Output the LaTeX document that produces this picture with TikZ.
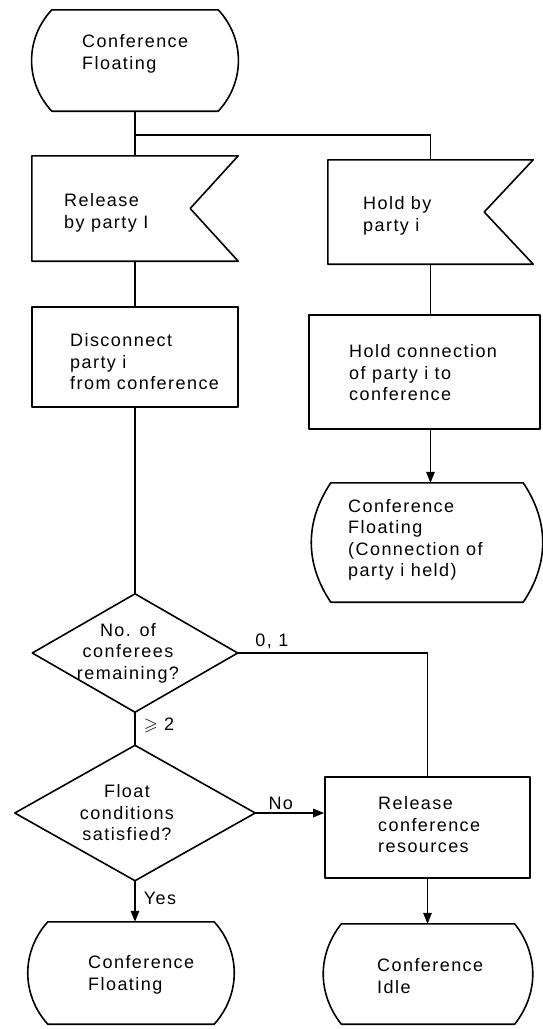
\documentclass[tikz,border=0pt]{standalone}
\usepackage{amssymb}
\usepackage{fontspec}
\setmainfont{Liberation Sans}[LetterSpace=8]
\usetikzlibrary{arrows.meta,calc}

\tikzset{
  shape line/.style={line width=1.6pt, line join=round},
  conn/.style={line width=1.6pt},
  arr/.style={conn, -{Triangle[length=11pt,width=8.5pt]}},
  frame/.style={rectangle, draw=none, inner sep=0pt, minimum width=#1},
  frame/.default=206pt,
  boxframe/.style={frame=#1, draw, shape line},
  txt/.style={inner sep=0pt, align=left, font=\fontsize{18}{21.5}\selectfont},
  ctxt/.style={txt, align=center},
  lbl/.style={inner sep=3pt, font=\fontsize{18}{21.5}\selectfont},
}

% state symbol: flat top and bottom, circular sides bulging outwards
\newcommand\stateoutline[3]{%
  \draw[shape line] ([xshift=#2pt]#1.north west) -- ([xshift=-#2pt]#1.north east)
    to[bend left=#3] ([xshift=-#2pt]#1.south east)
    -- ([xshift=#2pt]#1.south west)
    to[bend left=#3] ([xshift=#2pt]#1.north west) -- cycle;}
% input signal symbol: rectangle with a notch cut into its right side
\newcommand\flagoutline[2]{%
  \draw[shape line] (#1.north west) -- (#1.north east) -- ([xshift=-#2pt]#1.east)
    -- (#1.south east) -- (#1.south west) -- cycle;}
% decision symbol
\newcommand\diamondoutline[1]{%
  \draw[shape line] (#1.north) -- (#1.east) -- (#1.south) -- (#1.west) -- cycle;}

\begin{document}
\begin{tikzpicture}[x=1pt, y=-1pt]
\useasboundingbox (0,0) rectangle (542,1029);

% ---- left column
\node[frame, minimum height=101pt] (top) at (135,60.5) {};
\stateoutline{top}{20}{43}
\node[txt, anchor=west] (topT) at (82,54) {Conference\\Floating};

\node[frame, minimum height=105pt] (rel) at (135,208.5) {};
\flagoutline{rel}{48}
\node[txt, anchor=west] (relT) at (64,213) {Release\\by party I};

\node[boxframe, minimum height=100pt] (disc) at (135,357) {};
\node[txt, anchor=west] (discT) at (70,362) {Disconnect\\party i\\from conference};

\node[frame=205pt, minimum height=118pt] (d1) at (135,653) {};
\diamondoutline{d1}
\node[ctxt] (d1T) at (128,653) {No. of\\conferees\\remaining?};

\node[frame=240pt, minimum height=135pt] (d2) at (135,813) {};
\diamondoutline{d2}
\node[ctxt] (d2T) at (127,813) {Float\\conditions\\satisfied?};

\node[frame, minimum height=102pt] (fl) at (131,973) {};
\stateoutline{fl}{20}{42}
\node[txt, anchor=west] (flT) at (88,975) {Conference\\Floating};

% ---- right column
\node[frame=205pt, minimum height=104pt] (hold) at (430.5,212) {};
\flagoutline{hold}{49}
\node[txt, anchor=west] (holdT) at (363,216) {Hold by\\party i};

\node[boxframe=231pt, minimum height=114pt] (hc) at (424.5,372) {};
\node[txt, anchor=west] (hcT) at (349,373) {Hold connection\\of party i to\\conference};

\node[frame=228pt, minimum height=119pt] (rs) at (427,542.5) {};
\stateoutline{rs}{18}{34}
\node[txt, anchor=west] (rsT) at (348,540) {Conference\\Floating\\(Connection of\\party i held)};

\node[boxframe=205pt, minimum height=101pt] (res) at (427.5,827.5) {};
\node[txt, anchor=west] (resT) at (378,825) {Release\\conference\\resources};

\node[frame=207pt, minimum height=100pt] (idle) at (428,974) {};
\stateoutline{idle}{17}{38}
\node[txt, anchor=west] (idleT) at (377,976) {Conference\\Idle};

% ---- connectors
\coordinate (j) at (135,135);
\draw[conn] (top.south) -- (rel.north);
\draw[conn] (j) -| (hold.north);
\draw[conn] (rel.south) -- (disc.north);
\draw[conn] (disc.south) -- (d1.north);
\draw[conn] (hold.south) -- (hold.south |- hc.north);
\draw[arr] (hc.south -| hold.south) -- (hold.south |- rs.north);
\draw[conn] (d1.east) -- node[lbl, above, pos=0.18] {0, 1} (d1.east -| res.north) -- (res.north);
\draw[conn] (d1.south) -- node[lbl, right, xshift=5pt, pos=0.4] {$\geqslant$ 2} (d2.north);
\draw[arr] (d2.east) -- node[lbl, above, pos=0.37] {No} (d2.east -| res.west);
\draw[arr] (d2.south) -- node[lbl, right, xshift=5pt, pos=0.44] {Yes} (d2.south |- fl.north);
\draw[arr] (res.south) -- (res.south |- idle.north);
\end{tikzpicture}
\end{document}
